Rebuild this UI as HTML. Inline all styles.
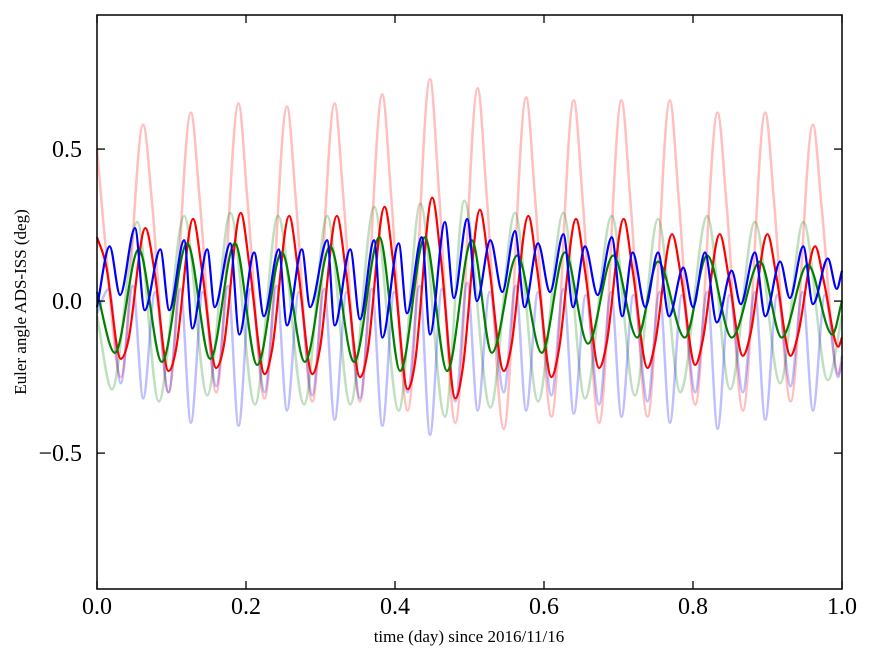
<!DOCTYPE html>
<html><head><meta charset="utf-8"><style>
html,body{margin:0;padding:0;background:#fff;}
svg{display:block;font-family:"Liberation Serif",serif;}
</style></head><body>
<svg id="chart" width="875" height="662" viewBox="0 0 875 662" xmlns="http://www.w3.org/2000/svg">
<rect x="0" y="0" width="875" height="662" fill="#fff"/>
<g id="series"></g>
<g id="axes"></g>
<text x="469" y="642" text-anchor="middle" font-size="17">time (day) since 2016/11/16</text>
<text transform="translate(26,302) rotate(-90)" text-anchor="middle" font-size="17">Euler angle ADS-ISS (deg)</text>
</svg>
<script>
const xTicks = [0.0, 0.2, 0.4, 0.6, 0.8, 1.0];
const xTickLabels = ["0.0","0.2","0.4","0.6","0.8","1.0"];
const yTicks = [-0.5, 0.0, 0.5];
const yTickLabels = ["\u22120.5","0.0","0.5"];

const lightRedT = [0.000,0.010,0.032,0.062,0.074,0.096,0.126,0.138,0.160,0.190,0.202,0.225,0.255,0.267,0.289,0.319,0.331,0.353,0.383,0.395,0.417,0.447,0.459,0.481,0.511,0.523,0.546,0.576,0.588,0.610,0.640,0.652,0.674,0.704,0.716,0.739,0.769,0.781,0.803,0.833,0.845,0.867,0.897,0.909,0.931,0.961,0.973,0.995,1.000];
const lightRedV = [0.50,0.22,-0.25,0.58,0.32,-0.30,0.62,0.33,-0.30,0.65,0.33,-0.32,0.64,0.33,-0.33,0.65,0.33,-0.33,0.68,0.34,-0.36,0.73,0.36,-0.40,0.70,0.35,-0.42,0.67,0.34,-0.38,0.66,0.33,-0.40,0.66,0.33,-0.38,0.66,0.33,-0.34,0.62,0.32,-0.36,0.62,0.32,-0.33,0.58,0.30,-0.24,-0.20];

const lightGreenT = [0,0.020,0.054,0.083,0.117,0.148,0.179,0.212,0.243,0.278,0.309,0.340,0.372,0.405,0.434,0.467,0.493,0.528,0.561,0.592,0.626,0.655,0.691,0.722,0.753,0.783,0.819,0.850,0.883,0.917,0.948,0.981,1.0];
const lightGreenV = [-0.05,-0.29,0.26,-0.33,0.28,-0.31,0.29,-0.34,0.28,-0.34,0.28,-0.34,0.31,-0.36,0.32,-0.38,0.33,-0.35,0.29,-0.33,0.29,-0.32,0.28,-0.31,0.27,-0.30,0.28,-0.29,0.26,-0.27,0.26,-0.26,-0.05];

const lightBlueT = [0,0.016,0.032,0.048,0.062,0.078,0.096,0.112,0.126,0.142,0.160,0.176,0.190,0.206,0.225,0.241,0.255,0.271,0.289,0.305,0.319,0.335,0.353,0.369,0.383,0.399,0.417,0.433,0.447,0.463,0.481,0.497,0.511,0.527,0.546,0.562,0.576,0.592,0.610,0.626,0.640,0.656,0.674,0.690,0.704,0.720,0.739,0.755,0.769,0.785,0.803,0.819,0.833,0.849,0.867,0.883,0.897,0.913,0.931,0.947,0.961,0.977,0.995,1.0];
const lightBlueV = [-0.04,0.04,-0.27,0.05,-0.32,0.03,-0.30,0.04,-0.40,0.03,-0.28,0.05,-0.41,0.04,-0.30,0.05,-0.36,0.03,-0.31,0.04,-0.39,0.03,-0.32,0.04,-0.41,0.03,-0.30,0.05,-0.44,0.04,-0.33,0.06,-0.36,0.03,-0.30,0.05,-0.36,0.03,-0.31,0.04,-0.37,0.02,-0.34,0.03,-0.38,0.02,-0.33,0.03,-0.40,0.02,-0.30,0.03,-0.42,0.02,-0.30,0.03,-0.39,0.02,-0.28,0.03,-0.36,0.02,-0.25,-0.18];

const redT = [0,0.012,0.032,0.042,0.065,0.077,0.096,0.106,0.129,0.141,0.160,0.170,0.193,0.205,0.225,0.235,0.258,0.270,0.289,0.299,0.322,0.334,0.353,0.363,0.386,0.398,0.417,0.427,0.450,0.462,0.481,0.491,0.514,0.526,0.546,0.556,0.579,0.591,0.610,0.620,0.643,0.655,0.674,0.684,0.707,0.719,0.739,0.749,0.772,0.784,0.803,0.813,0.836,0.848,0.867,0.877,0.900,0.912,0.931,0.941,0.964,0.976,0.995,1.0];
const redV = [0.21,0.12,-0.19,-0.13,0.24,0.10,-0.23,-0.16,0.27,0.10,-0.22,-0.15,0.29,0.11,-0.24,-0.16,0.28,0.10,-0.24,-0.16,0.28,0.10,-0.25,-0.17,0.31,0.12,-0.29,-0.20,0.34,0.13,-0.32,-0.22,0.30,0.12,-0.23,-0.15,0.28,0.10,-0.25,-0.16,0.27,0.10,-0.22,-0.14,0.27,0.10,-0.22,-0.14,0.22,0.08,-0.21,-0.13,0.22,0.08,-0.18,-0.11,0.22,0.08,-0.18,-0.11,0.18,0.06,-0.15,-0.12];

const greenT = [0,0.024,0.056,0.087,0.121,0.152,0.185,0.215,0.248,0.279,0.313,0.345,0.379,0.407,0.440,0.470,0.503,0.530,0.564,0.597,0.628,0.659,0.693,0.725,0.753,0.789,0.819,0.852,0.890,0.919,0.954,0.987,1.0];
const greenV = [0.03,-0.17,0.17,-0.20,0.19,-0.19,0.19,-0.21,0.16,-0.20,0.18,-0.20,0.21,-0.23,0.21,-0.23,0.20,-0.17,0.15,-0.17,0.16,-0.14,0.15,-0.12,0.13,-0.12,0.15,-0.12,0.13,-0.12,0.12,-0.11,0.0];

const blueT = [0,0.017,0.031,0.051,0.064,0.085,0.097,0.117,0.128,0.148,0.158,0.179,0.191,0.211,0.224,0.244,0.255,0.275,0.286,0.309,0.319,0.340,0.353,0.372,0.383,0.405,0.416,0.436,0.447,0.467,0.479,0.497,0.510,0.528,0.544,0.561,0.574,0.592,0.608,0.626,0.639,0.655,0.672,0.691,0.705,0.719,0.736,0.753,0.768,0.787,0.800,0.816,0.832,0.852,0.864,0.883,0.897,0.917,0.930,0.948,0.961,0.981,0.993,1.0];
const blueV = [-0.02,0.18,0.02,0.24,-0.03,0.17,-0.03,0.20,-0.09,0.17,-0.02,0.19,-0.11,0.16,-0.05,0.17,-0.08,0.17,-0.02,0.20,-0.08,0.17,-0.06,0.20,-0.12,0.19,-0.04,0.21,-0.11,0.26,0.01,0.27,0.00,0.20,0.03,0.23,-0.02,0.19,0.03,0.22,-0.02,0.18,0.02,0.21,-0.05,0.16,-0.02,0.16,-0.05,0.11,-0.02,0.16,-0.07,0.10,-0.01,0.16,-0.05,0.13,0.01,0.18,-0.01,0.14,0.04,0.10];

const X0=97, X1=842, Y0=15, Y1=589;
const xMin=0, xMax=1, yMin=-0.947, yMax=0.941;
function sx(t){ return X0 + (t-xMin)/(xMax-xMin)*(X1-X0); }
function sy(v){ return Y1 - (v-yMin)/(yMax-yMin)*(Y1-Y0); }

function monotonePath(xs, ys){
  const n=xs.length; const d=[], m=new Array(n);
  for(let i=0;i<n-1;i++) d.push((ys[i+1]-ys[i])/(xs[i+1]-xs[i]));
  m[0]=d[0]; m[n-1]=d[n-2];
  for(let i=1;i<n-1;i++){ m[i]=(d[i-1]*d[i]<=0)?0:(d[i-1]+d[i])/2; }
  for(let i=0;i<n-1;i++){
    if(d[i]===0){m[i]=0;m[i+1]=0;continue;}
    const a=m[i]/d[i], b=m[i+1]/d[i], s=a*a+b*b;
    if(s>9){const t=3/Math.sqrt(s); m[i]=t*a*d[i]; m[i+1]=t*b*d[i];}
  }
  let p='M'+xs[0].toFixed(2)+','+ys[0].toFixed(2);
  for(let i=0;i<n-1;i++){
    const h=(xs[i+1]-xs[i])/3;
    p+='C'+(xs[i]+h).toFixed(2)+','+(ys[i]+m[i]*h).toFixed(2)+' '+(xs[i+1]-h).toFixed(2)+','+(ys[i+1]-m[i+1]*h).toFixed(2)+' '+xs[i+1].toFixed(2)+','+ys[i+1].toFixed(2);
  }
  return p;
}
const NS='http://www.w3.org/2000/svg';
const sg=document.getElementById('series');
function drawSeries(ts, vs, color, op, w, name){
  const path=document.createElementNS(NS,'path');
  path.setAttribute('d', monotonePath(ts.map(sx), vs.map(sy)));
  path.setAttribute('fill','none');
  path.setAttribute('stroke',color);
  path.setAttribute('stroke-opacity',op);
  path.setAttribute('stroke-width',w);
  path.setAttribute('stroke-linejoin','round');
  
  
  sg.appendChild(path);
}
drawSeries(lightRedT, lightRedV, '#ff0000', 0.25, 2.5, 'series-light-red');
drawSeries(lightGreenT, lightGreenV, '#008000', 0.25, 2.5, 'series-light-green');
drawSeries(lightBlueT, lightBlueV, '#0000ff', 0.25, 2.5, 'series-light-blue');
drawSeries(redT, redV, '#ff0000', 1, 2.2, 'series-red');
drawSeries(greenT, greenV, '#008000', 1, 2.2, 'series-green');
drawSeries(blueT, blueV, '#0000ff', 1, 2.2, 'series-blue');

const ag=document.getElementById('axes');
const frame=document.createElementNS(NS,'rect');
frame.setAttribute('x',X0); frame.setAttribute('y',Y0);
frame.setAttribute('width',X1-X0); frame.setAttribute('height',Y1-Y0);
frame.setAttribute('fill','none'); frame.setAttribute('stroke','#000'); frame.setAttribute('stroke-width','1.5');


ag.appendChild(frame);
function line(x1,y1,x2,y2,name){
  const l=document.createElementNS(NS,'line');
  l.setAttribute('x1',x1);l.setAttribute('y1',y1);l.setAttribute('x2',x2);l.setAttribute('y2',y2);
  l.setAttribute('stroke','#000'); l.setAttribute('stroke-width','1.3');
  
  
  ag.appendChild(l);
}
function text(x,y,s,anchor,name){
  const t=document.createElementNS(NS,'text');
  t.setAttribute('x',x); t.setAttribute('y',y); t.setAttribute('text-anchor',anchor);
  t.setAttribute('font-size','24');
  t.textContent=s;
  
  
  ag.appendChild(t);
}
xTicks.forEach((v,i)=>{
  const x=sx(v);
  line(x,Y1,x,Y1-8,'x-tick');
  line(x,Y0,x,Y0+8,'x-tick-top');
  text(x,614,xTickLabels[i],'middle','x-tick-label');
});
yTicks.forEach((v,i)=>{
  const y=sy(v);
  line(X0,y,X0+8,y,'y-tick');
  line(X1,y,X1-8,y,'y-tick-right');
  text(82,y+8,yTickLabels[i],'end','y-tick-label');
});
</script>
</body></html>
